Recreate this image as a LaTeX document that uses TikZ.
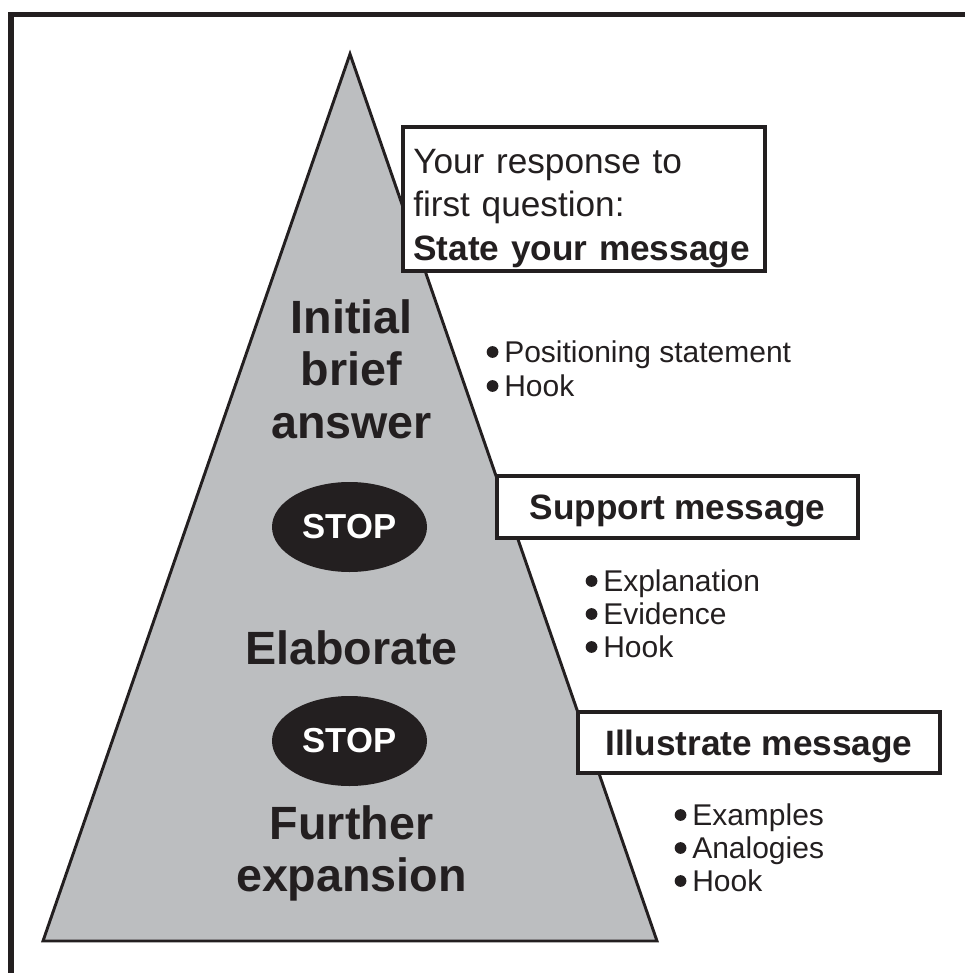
\documentclass[tikz,border=0pt]{standalone}
\usepackage{fontspec}
\setmainfont{Liberation Sans}
\usetikzlibrary{shapes.geometric}
\definecolor{ink}{HTML}{231F20}
\definecolor{pyr}{HTML}{BCBEC0}
\begin{document}
\begin{tikzpicture}[x=0.75pt,y=-0.75pt,
  box/.style={draw=ink, line width=3.3pt, fill=white, inner sep=0pt, text depth=0pt, text=ink,
    font=\fontsize{26.4pt}{32.6pt}\selectfont\bfseries},
  big/.style={inner sep=0pt, align=center, text=ink, font=\fontsize{35pt}{39.4pt}\selectfont\bfseries},
  stopsign/.style={ellipse, fill=ink, minimum width=116.25pt, minimum height=67.5pt, inner sep=0pt,
    text=white, font=\fontsize{26pt}{30pt}\selectfont\bfseries},
  item/.style={inner sep=0pt, anchor=base west, text=ink, font=\fontsize{22.5pt}{26pt}\selectfont},
  bul/.style={fill=ink}]
\useasboundingbox (0,0) rectangle (964,973);
% frame
\draw[ink, line width=3.9pt] (11,990) -- (11,14.5) -- (990,14.5);
% pyramid
\draw[ink, line width=2.2pt, fill=pyr] (350,54) -- (657,941) -- (43,941) -- cycle;
% boxes
\node[box, minimum width=271.5pt, minimum height=108pt] (box1) at (584,199) {};
\node[inner sep=0pt, anchor=north west, align=left, text width=256.5pt, text=ink,
  font=\fontsize{26.4pt}{32.6pt}\selectfont] (box1txt) at (413,149)
  {Your response to\\first question:\\\textbf{State your message}};
\node[box, minimum width=270.75pt, minimum height=46.5pt] (box2) at (677.5,507) {Support message};
\node[box, minimum width=271.5pt, minimum height=45.75pt] (box3) at (759,742.5) {Illustrate message};
% pyramid labels
\node[big, anchor=north] (initial) at (351.5,299) {Initial\\brief\\answer};
\node[big, anchor=base] (elab) at (351.5,664) {Elaborate};
\node[big, anchor=north] (further) at (351.5,805) {Further\\expansion};
% stops
\node[stopsign] (stop1) at (349.5,527) {STOP};
\node[stopsign] (stop2) at (349.5,741) {STOP};
% lists
\node[item] (a1) at (504,362) {Positioning statement};
\node[item] (a2) at (504,396) {Hook};
\node[item] (b1) at (603,591) {Explanation};
\node[item] (b2) at (603,624) {Evidence};
\node[item] (b3) at (603,657) {Hook};
\node[item] (c1) at (692,825) {Examples};
\node[item] (c2) at (692,858) {Analogies};
\node[item] (c3) at (692,891) {Hook};
\foreach \n in {a1,a2,b1,b2,b3,c1,c2,c3}
  \fill[bul] ([xshift=-8.6pt, yshift=7.5pt]\n.base west) circle (4.4pt);
\end{tikzpicture}
\end{document}
